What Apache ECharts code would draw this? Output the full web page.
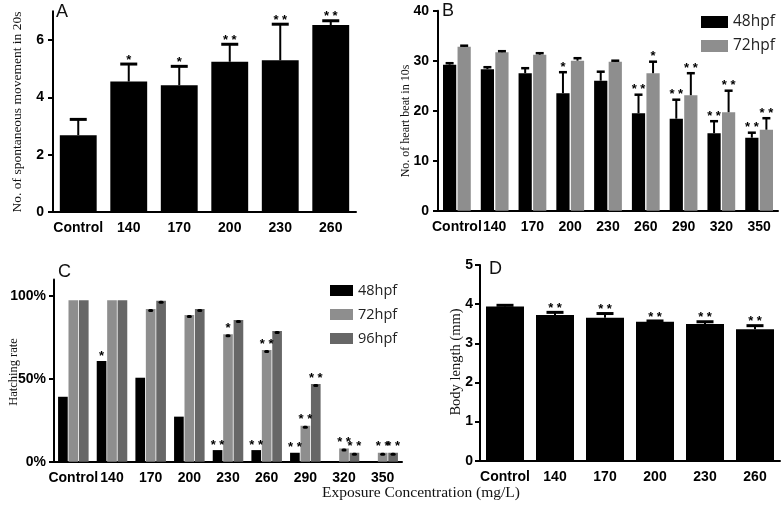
<!DOCTYPE html>
<html>
<head>
<meta charset="utf-8">
<script src="https://cdn.jsdelivr.net/npm/echarts@6/dist/echarts.min.js"></script>
<style>html,body{margin:0;padding:0;background:#fff}#c{width:783px;height:514px}</style>
</head>
<body>
<div id="c"></div>
<script>
// ---------- Panel A: spontaneous movement ----------
const catA = ['Control', '140', '170', '200', '230', '260'];
const moveMean = [2.68, 4.55, 4.42, 5.24, 5.29, 6.52];
const moveErr = [0.55, 0.61, 0.66, 0.61, 1.26, 0.15];
const sigA = ['', '*', '*', '* *', '* *', '* *'];
const ticksA = [0, 2, 4, 6];

// ---------- Panel B: heart beat ----------
const catB = ['Control', '140', '170', '200', '230', '260', '290', '320', '350'];
const beat48 = [29.2, 28.3, 27.5, 23.5, 26.0, 19.5, 18.4, 15.5, 14.6];
const beat48Err = [0.3, 0.4, 1.0, 4.2, 1.8, 3.7, 3.8, 2.4, 1.0];
const beat72 = [32.8, 31.7, 31.2, 30.0, 29.8, 27.5, 23.1, 19.7, 16.2];
const beat72Err = [0.2, 0.2, 0.3, 0.5, 0.2, 2.3, 4.4, 4.3, 2.3];
const sigB48 = ['', '', '', '*', '', '* *', '* *', '* *', '* *'];
const sigB72 = ['', '', '', '', '', '*', '* *', '* *', '* *'];
const ticksB = [0, 10, 20, 30, 40];

// ---------- Panel C: hatching rate (%) ----------
const catC = ['Control', '140', '170', '200', '230', '260', '290', '320', '350'];
const hatch48 = [39.2, 60.8, 50.7, 27.2, 7.0, 7.0, 5.4, 0, 0];
const hatch72 = [97.5, 97.5, 92.2, 88.5, 76.9, 67.4, 21.7, 8.0, 5.4];
const hatch96 = [97.5, 97.5, 97.2, 92.2, 85.5, 78.9, 46.9, 5.4, 5.4];
const hatch48Err = [0, 0, 0, 0, 0, 0, 0, 0, 0];
const hatch72Err = [0, 0, 0.6, 0.6, 0.6, 0.6, 0.6, 0.6, 0.6];
const hatch96Err = [0, 0, 0.6, 0.6, 0.6, 0.6, 0.6, 0.6, 0.6];
const sigC48 = ['', '*', '', '', '* *', '* *', '* *', '', ''];
const sigC72 = ['', '', '', '', '*', '* *', '* *', '* *', '* *'];
const sigC96 = ['', '', '', '', '', '', '* *', '* *', '* *'];
const ticksC = [0, 50, 100];

// ---------- Panel D: body length ----------
const catD = ['Control', '140', '170', '200', '230', '260'];
const lenMean = [3.94, 3.72, 3.65, 3.55, 3.49, 3.36];
const lenErr = [0.03, 0.07, 0.11, 0.02, 0.06, 0.09];
const sigD = ['', '* *', '* *', '* *', '* *', '* *'];
const ticksD = [0, 1, 2, 3, 4, 5];

const seriesNames = ['48hpf', '72hpf', '96hpf'];
const colBlack = '#000000', colGray = '#8e8e8e', colDark = '#676767';

const chart = echarts.init(document.getElementById('c'), null, {renderer: 'canvas'});

const tickFont = {color: '#000', fontFamily: 'Liberation Sans', fontWeight: 'bold', fontSize: 14};

function xAx(gi, cats) {
  return {
    type: 'category', gridIndex: gi, data: cats,
    axisLine: {lineStyle: {color: '#000', width: 2}},
    axisTick: {alignWithLabel: true, length: 5, lineStyle: {color: '#000', width: 2}},
    axisLabel: Object.assign({interval: 0, margin: 9, hideOverlap: false}, tickFont),
    splitLine: {show: false}
  };
}
function yAx(gi, min, max, interval, ticks, fmt, margin) {
  return {
    type: 'value', gridIndex: gi, min: min, max: max, interval: interval,
    axisLine: {show: true, lineStyle: {color: '#000', width: 2}},
    axisTick: {show: true, length: 5, lineStyle: {color: '#000', width: 2}, customValues: ticks},
    axisLabel: Object.assign({margin: margin, customValues: ticks, formatter: fmt || '{value}'}, tickFont),
    splitLine: {show: false}
  };
}

// error bars + significance stars, positioned like ECharts' bar layout
function errSeries(gi, means, errs, sigs, idx, n, bw, gap, opt) {
  const total = n * bw + (n - 1) * bw * gap;
  const off = -total / 2 + idx * bw * (1 + gap) + bw / 2;
  return {
    type: 'custom', xAxisIndex: gi, yAxisIndex: gi, z: 5, silent: true,
    data: means.map((m, i) => [i, m, errs[i]]),
    renderItem: function (params, api) {
      const i = api.value(0), m = api.value(1), e = api.value(2);
      const band = api.size([1, 0])[0];
      const base = api.coord([i, m]);
      const x = base[0] + off * band;
      const top = api.coord([i, m + e]);
      const children = [];
      if (e > 0) {
        if (opt.dot) {
          children.push({type: 'rect', shape: {x: x - opt.capW / 2, y: base[1], width: opt.capW, height: 3, r: 1.5},
            style: {fill: '#000'}});
        } else {
          children.push({type: 'line', shape: {x1: x, y1: base[1], x2: x, y2: top[1]},
            style: {stroke: '#000', lineWidth: opt.lw}});
          children.push({type: 'line', shape: {x1: x - opt.capW / 2, y1: top[1], x2: x + opt.capW / 2, y2: top[1]},
            style: {stroke: '#000', lineWidth: opt.capLw}});
        }
      }
      const s = sigs[params.dataIndex];
      if (s) {
        children.push({type: 'text', x: x, y: top[1] - opt.starGap,
          style: {text: s, fill: '#000', font: 'bold ' + opt.starSize + 'px "Liberation Sans"', align: 'center', verticalAlign: 'middle'}});
      }
      return {type: 'group', children: children};
    }
  };
}

function barSeries(gi, name, data, color, bw, gap) {
  return {
    type: 'bar', name: name, xAxisIndex: gi, yAxisIndex: gi, data: data,
    barWidth: (bw * 100) + '%', barGap: (gap * 100) + '%',
    itemStyle: {color: color}, silent: true
  };
}

const bwA = 0.73, bwD = 0.76, bwB = 0.35, gapB = 0.10, bwC = 0.25, gapC = 0.08;

const serif = 'Liberation Serif';
function vTitle(x, y, text, size) {
  return {type: 'text', x: x, y: y, rotation: Math.PI / 2,
    style: {text: text, font: size + 'px "' + serif + '"', fill: '#111', align: 'center', verticalAlign: 'middle'}};
}
function letter(x, y, t) {
  return {type: 'text', x: x, y: y, style: {text: t, font: '18px "Liberation Sans"', fill: '#111'}};
}

const option = {
  animation: false,
  backgroundColor: '#fff',
  grid: [
    {left: 53, top: 11.3, width: 303, height: 200.7},
    {left: 438, top: 10.7, width: 340, height: 200},
    {left: 54, top: 279.5, width: 348, height: 182.2},
    {left: 480, top: 265, width: 300, height: 195.7}
  ],
  xAxis: [xAx(0, catA), xAx(1, catB), xAx(2, catC), xAx(3, catD)],
  yAxis: [
    yAx(0, 0, 7, 1, ticksA, null, 9),
    yAx(1, 0, 40, 10, ticksB, null, 9),
    yAx(2, 0, 110, 10, ticksC, '{value}%', 8),
    yAx(3, 0, 5, 1, ticksD, null, 7)
  ],
  legend: [
    {data: ['48hpf', '72hpf'], left: 696, top: 9, orient: 'vertical', itemWidth: 27, itemHeight: 12, itemGap: 8,
      icon: 'rect', selectedMode: false, textStyle: {fontSize: 15.5, color: '#222', fontFamily: 'Open Sans'}},
    {data: ['48hpf', '72hpf', '96hpf'], left: 325, top: 278, orient: 'vertical', itemWidth: 23, itemHeight: 11, itemGap: 9,
      icon: 'rect', selectedMode: false, textStyle: {fontSize: 14.5, color: '#222', fontFamily: 'Open Sans'}}
  ],
  series: [
    barSeries(0, 'Spontaneous movement', moveMean, colBlack, bwA, 0),
    errSeries(0, moveMean, moveErr, sigA, 0, 1, bwA, 0, {lw: 2, capW: 17, capLw: 3, starGap: 4, starSize: 13}),

    barSeries(1, seriesNames[0], beat48, colBlack, bwB, gapB),
    barSeries(1, seriesNames[1], beat72, colGray, bwB, gapB),
    errSeries(1, beat48, beat48Err, sigB48, 0, 2, bwB, gapB, {lw: 2, capW: 8, capLw: 2.5, starGap: 5, starSize: 13}),
    errSeries(1, beat72, beat72Err, sigB72, 1, 2, bwB, gapB, {lw: 2, capW: 8, capLw: 2.5, starGap: 5, starSize: 13}),

    barSeries(2, seriesNames[0], hatch48, colBlack, bwC, gapC),
    barSeries(2, seriesNames[1], hatch72, colGray, bwC, gapC),
    barSeries(2, seriesNames[2], hatch96, colDark, bwC, gapC),
    errSeries(2, hatch48, hatch48Err, sigC48, 0, 3, bwC, gapC, {dot: true, capW: 5, starGap: 5, starSize: 13}),
    errSeries(2, hatch72, hatch72Err, sigC72, 1, 3, bwC, gapC, {dot: true, capW: 5, starGap: 5, starSize: 13}),
    errSeries(2, hatch96, hatch96Err, sigC96, 2, 3, bwC, gapC, {dot: true, capW: 5, starGap: 5, starSize: 13}),

    barSeries(3, 'Body length', lenMean, colBlack, bwD, 0),
    errSeries(3, lenMean, lenErr, sigD, 0, 1, bwD, 0, {lw: 2, capW: 17, capLw: 3, starGap: 4, starSize: 13})
  ],
  graphic: [
    vTitle(17, 112, 'No. of spontaneous movement in 20s', 13.5),
    vTitle(406, 121, 'No. of heart beat in 10s', 12),
    vTitle(14, 372, 'Hatching rate', 12.5),
    vTitle(456, 362, 'Body length (mm)', 14.5),
    {type: 'text', x: 421, y: 493, style: {text: 'Exposure Concentration (mg/L)', font: '15.5px "Liberation Serif"', fill: '#111', align: 'center', verticalAlign: 'middle'}},
    letter(56, 3, 'A'),
    letter(442, 2, 'B'),
    letter(58, 263, 'C'),
    letter(489, 260, 'D')
  ]
};
chart.setOption(option);
</script>
</body>
</html>
